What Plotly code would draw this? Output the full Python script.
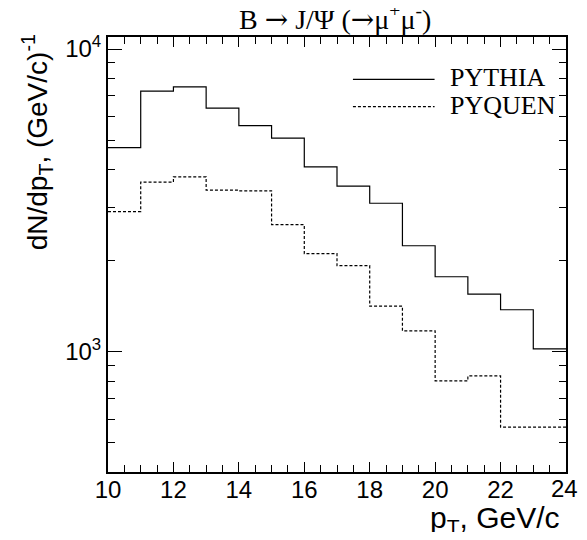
import plotly.graph_objects as go
import numpy as np

# Data (bin edges 10..24 GeV/c, 1 GeV bins)
bin_edges = [10, 11, 12, 13, 14, 15, 16, 17, 18, 19, 20, 21, 22, 23, 24]
pythia = [4727, 7262, 7504, 6381, 5589, 5078, 4082, 3524, 3095, 2241, 1770, 1551, 1377, 1023]
pyquen = [2904, 3633, 3782, 3418, 3400, 2630, 2109, 1925, 1416, 1173, 802, 833, 564, 564]
series_names = ["PYTHIA", "PYQUEN"]

x_major = [10, 12, 14, 16, 18, 20, 22, 24]
x_minor = [v / 2 for v in range(20, 49)]
y_major = [1000, 10000]
y_minor = [m * 10 ** e for e in (2, 3) for m in range(2, 10) if 400 < m * 10 ** e < 11000]

OFF = 8  # default page body margin
W, H = 571, 524
ML, MR, MT, MB = 100, 11, 29, 60
PW, PH = W - ML - MR, H - MT - MB


def px_x(p):
    # p is a window pixel position
    return (p - OFF - ML) / PW


def px_y(p):
    return (H - MB - (p - OFF)) / PH


fig = go.Figure()
fig.add_trace(go.Scatter(x=bin_edges, y=pythia + [pythia[-1]], mode="lines",
                         line=dict(color="black", width=1.2, shape="hv"),
                         name=series_names[0], showlegend=False, hoverinfo="skip"))
fig.add_trace(go.Scatter(x=bin_edges, y=pyquen + [pyquen[-1]], mode="lines",
                         line=dict(color="black", width=1.2, shape="hv", dash="3px,2px"),
                         name=series_names[1], showlegend=False, hoverinfo="skip"))

axis_font = dict(family="Liberation Sans, Arial", size=24, color="black")

# the last label (24) would overflow the page edge, so it is drawn as an annotation
fig.update_xaxes(range=[10, 24], showline=True, linewidth=2, linecolor="black",
                 mirror="allticks", ticks="inside", ticklen=10, tickwidth=1, tickcolor="black",
                 tickvals=x_major, ticktext=[str(v) for v in x_major[:-1]] + [""],
                 tickfont=axis_font, showgrid=False, zeroline=False, ticklabelstandoff=-5,
                 minor=dict(tickvals=x_minor, ticks="inside", ticklen=7, tickwidth=1,
                            tickcolor="black", showgrid=False))
fig.add_annotation(text=str(x_major[-1]), x=x_major[-1], xref="x", y=px_y(488), yref="paper",
                   xanchor="center", yanchor="middle", xshift=-2, showarrow=False,
                   font=axis_font)
fig.update_yaxes(type="log", range=[np.log10(401), np.log10(10960)], showline=True,
                 linewidth=2, linecolor="black", mirror="allticks", ticks="inside",
                 ticklen=14, tickwidth=1, tickcolor="black",
                 tickvals=y_major, ticktext=["10<sup>3</sup>", "10<sup>4</sup>"],
                 tickfont=axis_font, showgrid=False, zeroline=False,
                 minor=dict(tickvals=y_minor, ticks="inside", ticklen=7, tickwidth=1,
                            tickcolor="black", showgrid=False))

serif = "Liberation Serif, Times New Roman, serif"
arrow = '<span style="font-family:DejaVu Serif">\u2192</span>'
# Title
fig.add_annotation(text="B " + arrow + " J/\u03a8 (" + arrow + "\u03bc<sup>+</sup>\u03bc<sup>-</sup>)",
                   x=px_x(336), y=px_y(18), xref="paper", yref="paper",
                   xanchor="center", yanchor="middle", showarrow=False,
                   font=dict(family=serif, size=28, color="black"))
# Axis titles
fig.add_annotation(text="p<sub>T</sub>, GeV/c", x=px_x(564), y=px_y(519),
                   xref="paper", yref="paper", xanchor="right", yanchor="middle",
                   showarrow=False, font=dict(family="Liberation Sans, Arial", size=30, color="black"))
fig.add_annotation(text="dN/dp<sub>T</sub>, (GeV/c)<sup>-1</sup>", x=px_x(37), y=px_y(142),
                   xref="paper", yref="paper", xanchor="center", yanchor="middle",
                   textangle=-90, showarrow=False,
                   font=dict(family="Liberation Sans, Arial", size=28, color="black"))

# Legend drawn manually
for name, ypix, dash in [(series_names[0], 79.3, "solid"), (series_names[1], 106.7, "3px,2px")]:
    fig.add_shape(type="line", xref="paper", yref="paper", x0=px_x(354), x1=px_x(436),
                  y0=px_y(ypix), y1=px_y(ypix), line=dict(color="black", width=1.2, dash=dash))
    fig.add_annotation(text=name, x=px_x(449), y=px_y(ypix - 1.5), xref="paper", yref="paper",
                       xanchor="left", yanchor="middle", showarrow=False,
                       font=dict(family=serif, size=26, color="black"))

fig.update_layout(width=W, height=H, margin=dict(l=ML, r=MR, t=MT, b=MB),
                  paper_bgcolor="white", plot_bgcolor="white", showlegend=False,
                  hovermode=False)

fig.write_html("out.html", config={"displayModeBar": False})
